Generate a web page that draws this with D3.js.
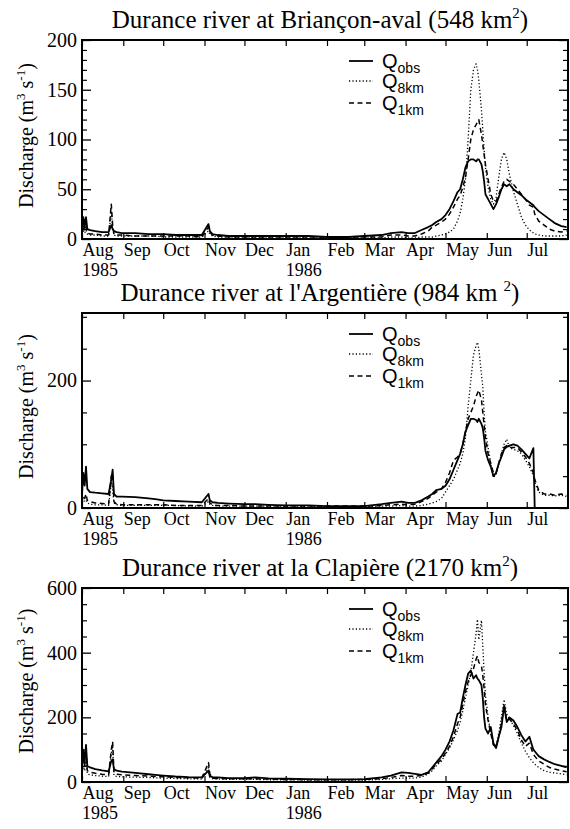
<!DOCTYPE html>
<html><head><meta charset="utf-8">
<script src="https://cdn.jsdelivr.net/npm/d3@7"></script>
<style>body{margin:0;background:#fff}svg{display:block}</style>
</head><body><svg id="c" width="570" height="829"></svg>
<script>
// ---- data (days counted from 1 Aug 1985) ----
const days = [0,1,2,3,4,6,10,15,20,22,23,24,26,30,40,50,55,61,70,80,90,95,96,98,102,110,122,130,140,153,170,184,200,212,225,232,240,245,250,255,260,263,266,270,273,276,279,282,284,286,288,290,292,294,296,297,298,300,301,302,303,305,307,309,311,313,315,317,319,321,324,327,330,333,336,339,340,343,347,351,355,360,364];

const monthLabels = ["Aug","Sep","Oct","Nov","Dec","Jan","Feb","Mar","Apr","May","Jun","Jul"];
const yearLabels = ["1985","1986"];
const stationNames = ["Durance river at Briançon-aval","Durance river at l'Argentière","Durance river at la Clapière"];
const stationAreas = ["548 km","984 km ","2170 km"];
const seriesNames = ["obs","8km","1km"];

// Briançon-aval
const obs1 = [10,22,12,22,10,9,8,7,7,14,10,8,7,6,6,5,5,5,4,4,4,15,8,5,4,3,3,3,3,3,3,2,2,3,4,6,7,6,6,9,12,14,17,20,24,30,38,47,50,60,72,78,80,80,78,80,80,75,68,58,45,40,35,30,35,42,50,55,53,55,50,47,44,40,37,34,32,28,24,20,16,13,12];
const q8_1 = [4,8,6,9,5,4,4,3,3,28,12,4,3,3,3,3,3,2,2,2,2,8,5,3,2,2,2,2,1,1,1,1,1,1,1,2,2,1,1,2,2,2,3,4,5,7,10,18,26,40,60,100,150,170,176,170,160,130,110,90,72,52,40,35,42,62,80,87,80,65,48,35,22,14,9,6,5,4,3,3,3,3,4];
const q1_1 = [6,14,8,12,6,5,5,4,4,35,14,5,4,4,3,3,3,3,3,3,2,12,7,4,3,2,2,2,2,2,2,2,2,2,2,4,4,3,3,5,8,12,14,17,20,25,32,40,44,52,62,80,100,110,115,118,120,105,95,85,75,60,45,38,38,45,52,58,60,58,55,50,45,40,34,32,25,18,14,10,8,7,8];
// l'Argentière
const obs2 = [20,55,35,65,30,25,24,23,22,45,60,22,18,18,17,15,14,12,11,10,9,22,12,9,8,7,6,6,5,4,4,3,3,3,6,8,10,8,8,12,18,22,28,30,35,45,60,75,85,100,120,130,140,140,138,135,140,132,125,110,90,75,65,50,55,70,80,92,96,98,100,98,92,85,78,94,0,null,null,null,null,null,null];
const q8_2 = [8,12,10,12,8,6,5,5,4,40,30,8,5,4,4,4,4,4,4,3,3,10,6,4,3,3,3,3,3,3,3,2,2,2,3,3,4,3,3,4,6,8,10,15,25,35,45,60,70,85,110,160,200,240,255,260,250,210,190,150,120,95,70,48,52,70,85,100,108,95,92,90,85,75,65,50,40,25,20,20,19,20,18];
const q1_2 = [10,20,15,22,12,10,8,7,6,50,55,10,6,5,5,5,5,5,4,4,4,15,8,5,4,4,3,3,3,3,3,3,3,3,4,5,6,5,6,10,15,20,25,30,40,55,75,80,85,100,120,140,150,160,175,180,185,170,150,130,110,85,70,55,55,70,85,95,98,95,95,95,88,80,70,55,45,28,22,22,20,22,20];
// la Clapière
const obs3 = [30,100,60,115,50,45,40,36,33,65,70,40,35,32,28,24,22,20,17,15,14,35,18,15,14,12,12,14,11,10,9,8,8,9,14,20,30,28,25,22,30,45,60,80,100,125,160,210,215,260,300,335,345,320,330,320,315,300,260,200,165,150,170,120,105,140,170,235,185,200,190,170,145,125,140,100,95,80,70,62,55,50,45];
const q8_3 = [25,50,35,60,25,22,20,18,17,90,110,20,17,16,15,14,13,12,11,10,9,45,15,10,9,8,8,8,7,7,6,6,6,6,8,10,12,12,12,15,25,35,50,65,85,105,130,160,185,220,260,300,340,400,460,503,440,500,420,340,270,200,150,115,115,150,200,255,210,195,175,150,120,95,75,60,55,45,35,30,28,25,22];
const q1_3 = [30,80,50,100,35,30,27,24,22,100,125,30,24,22,20,18,17,16,14,13,12,60,25,12,11,10,10,10,9,8,7,7,7,8,10,14,20,18,18,20,28,40,55,70,90,110,140,180,200,240,280,310,330,350,380,390,370,360,330,290,240,190,150,115,108,140,180,240,190,195,180,160,130,110,120,85,80,65,55,45,40,35,32];

// ---- layout ----
const svg = d3.select("#c");
const serif = "'Liberation Serif','Times New Roman',Times,serif";
const sans = "'Liberation Sans',Arial,Helvetica,sans-serif";
const t0 = new Date(1985,7,1), t1 = new Date(1986,7,1);
const X0 = 82, X1 = 568;
const x = d3.scaleTime().domain([t0,t1]).range([X0,X1]);
const months = d3.timeMonth.range(t0,t1);
const years = [new Date(1985,7,1), new Date(1986,0,1)];

const panels = [
  {name:stationNames[0], area:stationAreas[0], top:40, bottom:239, ymax:200, majors:d3.range(0,201,50), minors:d3.range(0,201,10), s:[obs1,q8_1,q1_1]},
  {name:stationNames[1], area:stationAreas[1], top:313, bottom:508, ymax:306, majors:[0,200], minors:d3.range(0,301,50), s:[obs2,q8_2,q1_2]},
  {name:stationNames[2], area:stationAreas[2], top:588, bottom:782, ymax:600, majors:d3.range(0,601,200), minors:d3.range(0,601,50), s:[obs3,q8_3,q1_3]}
];
const styles = [
  {w:1.8, dash:null},
  {w:1.3, dash:"1.2,2.2"},
  {w:1.5, dash:"5,3.5"}
];

panels.forEach((p,pi)=>{
  const y = d3.scaleLinear().domain([0,p.ymax]).range([p.bottom,p.top]);
  const g = svg.append("g");
  const clipId = "clip"+pi;
  svg.append("clipPath").attr("id",clipId).append("rect")
    .attr("x",X0).attr("y",p.top).attr("width",X1-X0).attr("height",p.bottom-p.top);

  // title
  const tt = g.append("text").attr("x",320).attr("y",p.top-12).attr("text-anchor","middle")
    .attr("font-family",serif).attr("font-size",25);
  tt.append("tspan").text(p.name+" ("+p.area);
  tt.append("tspan").attr("dy",-10).attr("font-size",15).text("2");
  tt.append("tspan").attr("dy",10).text(")");

  // data lines
  const pts = days.map((d,i)=>({date:d3.timeDay.offset(t0,d), i}));
  [1,2,0].forEach(k=>{
    const vals = p.s[k];
    const line = d3.line().defined(d=>vals[d.i]!=null).x(d=>x(d.date)).y(d=>y(vals[d.i]));
    g.append("path").attr("clip-path",`url(#${clipId})`).attr("d",line(pts))
      .attr("fill","none").attr("stroke","#000").attr("stroke-width",styles[k].w)
      .attr("stroke-dasharray",styles[k].dash).attr("stroke-linejoin","round");
  });

  // x bottom axis with month labels
  const xb = g.append("g").attr("transform",`translate(0,${p.bottom})`)
    .call(d3.axisBottom(x).tickValues(months).tickSize(-6).tickPadding(5)
      .tickFormat((d,i)=>monthLabels[i]));
  xb.select(".domain").remove();
  xb.selectAll("line").attr("stroke-width",1.2);
  xb.selectAll("text").attr("text-anchor","start").attr("font-family",serif).attr("font-size",18)
    .attr("fill","#000").attr("y",17).attr("dy",null);
  // years
  g.selectAll(".yr").data(years).enter().append("text")
    .attr("x",d=>x(d)).attr("y",p.bottom+37).attr("font-family",serif).attr("font-size",18)
    .text((d,i)=>yearLabels[i]);
  // x top ticks
  const xt = g.append("g").attr("transform",`translate(0,${p.top})`)
    .call(d3.axisTop(x).tickValues(months).tickSize(-6).tickFormat(""));
  xt.select(".domain").remove();
  xt.selectAll("line").attr("stroke-width",1.2);

  // y axes
  const minorVals = p.minors.filter(v=>!p.majors.includes(v));
  const yl = g.append("g").attr("transform",`translate(${X0},0)`)
    .call(d3.axisLeft(y).tickValues(p.majors).tickSize(-9).tickPadding(5).tickFormat(d3.format("d")));
  yl.select(".domain").remove();
  yl.selectAll("line").attr("stroke-width",1.3);
  yl.selectAll("text").attr("font-family",serif).attr("font-size",20).attr("fill","#000");
  const ylm = g.append("g").attr("transform",`translate(${X0},0)`)
    .call(d3.axisLeft(y).tickValues(minorVals).tickSize(-5).tickFormat(""));
  ylm.select(".domain").remove();
  ylm.selectAll("line").attr("stroke-width",1.2);
  const yr = g.append("g").attr("transform",`translate(${X1},0)`)
    .call(d3.axisRight(y).tickValues(p.majors).tickSize(-9).tickFormat(""));
  yr.select(".domain").remove();
  yr.selectAll("line").attr("stroke-width",1.3);
  const yrm = g.append("g").attr("transform",`translate(${X1},0)`)
    .call(d3.axisRight(y).tickValues(minorVals).tickSize(-5).tickFormat(""));
  yrm.select(".domain").remove();
  yrm.selectAll("line").attr("stroke-width",1.2);

  // frame
  g.append("rect").attr("x",X0).attr("y",p.top).attr("width",X1-X0).attr("height",p.bottom-p.top)
    .attr("fill","none").attr("stroke","#000").attr("stroke-width",2);

  // y title
  const cy = (p.top+p.bottom)/2 - 4;
  const yt = g.append("text").attr("transform",`translate(33,${cy}) rotate(-90)`).attr("text-anchor","middle")
    .attr("font-family",serif).attr("font-size",20);
  yt.append("tspan").text("Discharge (m");
  yt.append("tspan").attr("dy",-8).attr("font-size",13).text("3");
  yt.append("tspan").attr("dy",8).text(" s");
  yt.append("tspan").attr("dy",-8).attr("font-size",13).text("-1");
  yt.append("tspan").attr("dy",8).text(")");

  // legend
  const rows = [p.top+21, p.top+41, p.top+63];
  seriesNames.forEach((n,k)=>{
    g.append("line").attr("x1",349).attr("x2",373).attr("y1",rows[k]).attr("y2",rows[k])
      .attr("stroke","#000").attr("stroke-width",styles[k].w).attr("stroke-dasharray",styles[k].dash);
    const lt = g.append("text").attr("x",382).attr("y",rows[k]+7).attr("font-family",sans).attr("font-size",20);
    lt.append("tspan").text("Q");
    lt.append("tspan").attr("dy",5).attr("font-size",14).text(n);
  });
});
</script></body></html>
